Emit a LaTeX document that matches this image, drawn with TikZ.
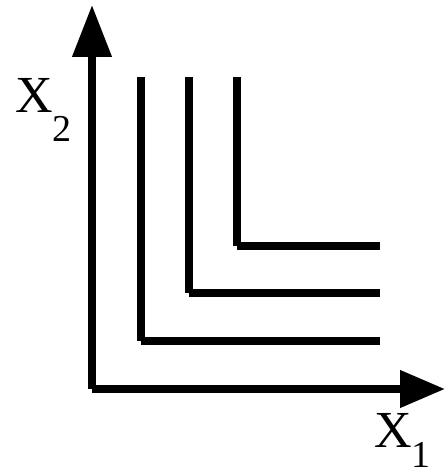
\documentclass[tikz,border=0pt]{standalone}
\usepackage{fontspec}
\setmainfont{Liberation Serif}
\usetikzlibrary{arrows.meta}
\begin{document}
\begin{tikzpicture}[x=1pt,y=-1pt,
  axis/.style={line width=7.5pt},
  curve/.style={line width=8pt},
  lbl/.style={inner sep=0pt,anchor=base west,font=\fontsize{52}{52}\selectfont}]
\useasboundingbox (0,0) rectangle (446,473);
% axes
\coordinate (origin) at (92,389);
\coordinate (ytip) at (92,5);
\coordinate (xstart) at (92,389);
\coordinate (xtip) at (445,389);
\draw[axis,-{Triangle[length=52pt,width=38pt]}] (origin) -- (ytip);
\draw[axis,-{Triangle[length=45pt,width=36pt]}] (xstart) -- (xtip);
% L-shaped curves
\foreach \n/\x/\y in {a/236.5/245.5, b/188.5/293, c/140.5/341}{
  \coordinate (\n top) at (\x,77);
  \coordinate (\n corner) at (\x,\y);
  \coordinate (\n end) at (380,\y);
  \draw[curve] (\n top) -- (\n corner);
  \draw[curve] (\n corner) -- (\n end);
}
% labels
\node[lbl] (x2) at (15,113) {X\raisebox{-29pt}{\fontsize{38}{38}\selectfont 2}};
\node[lbl] (x1) at (374,447) {X\raisebox{-20pt}{\fontsize{38}{38}\selectfont 1}};
\end{tikzpicture}
\end{document}
